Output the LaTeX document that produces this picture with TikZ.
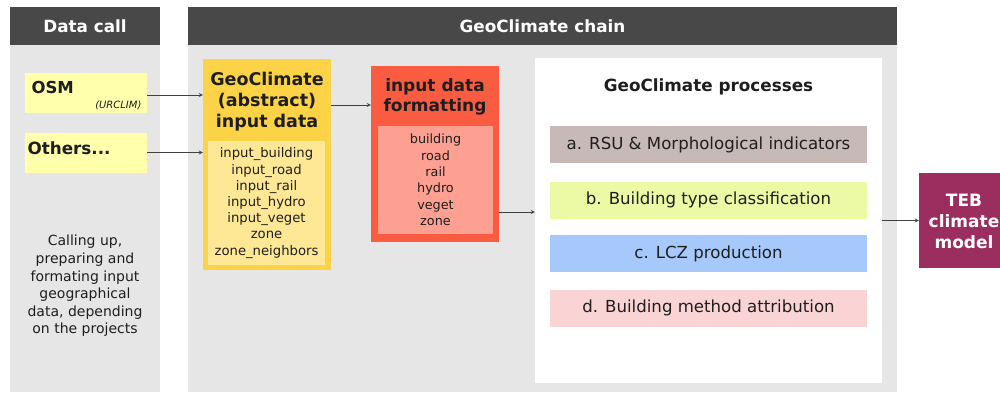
\documentclass[tikz,border=0pt]{standalone}
\usepackage{fontspec}
\setmainfont{DejaVu Sans}
\usetikzlibrary{positioning}

\definecolor{headgray}{RGB}{72,72,72}
\definecolor{bodygray}{RGB}{230,230,230}
\definecolor{paleyellow}{RGB}{255,255,172}
\definecolor{gold}{RGB}{252,210,70}
\definecolor{goldlight}{RGB}{254,232,150}
\definecolor{tomatored}{RGB}{250,92,66}
\definecolor{salmon}{RGB}{253,160,146}
\definecolor{procA}{RGB}{200,185,185}
\definecolor{procB}{RGB}{236,250,166}
\definecolor{procC}{RGB}{166,200,250}
\definecolor{procD}{RGB}{250,212,212}
\definecolor{tebred}{RGB}{155,45,95}
\definecolor{ink}{RGB}{30,30,30}

\newcommand{\sz}[2]{\fontsize{#1}{#2}\selectfont}

\begin{document}
\begin{tikzpicture}[x=1pt, y=-1pt, >=stealth,
  every node/.style={text=ink},
  box/.style={rectangle, inner sep=0pt},
  head/.style={box, fill=headgray, text=white, minimum height=38, font=\sz{16.8}{20}\bfseries},
  panel/.style={box, fill=bodygray, minimum height=347},
  source/.style={box, fill=paleyellow, minimum width=122, minimum height=40},
  proc/.style={box, minimum width=317, minimum height=37, font=\sz{16.6}{19}},
  link/.style={->, draw=black!75, line width=0.8pt}]

\clip (0,0) rectangle (1000,394);
\fill [white] (0,0) rectangle (1000,394);

% columns
\node [head, minimum width=150] (callhead) at (85,26) {Data call};
\node [panel, minimum width=150] (callbody) at (85,218.5) {};
\node [head, minimum width=709] (chainhead) at (542.5,26) {GeoClimate chain};
\node [panel, minimum width=709] (chainbody) at (542.5,218.5) {};

% data sources
\node [source] (osm) at (86,93) {};
\node [anchor=west, font=\sz{16.5}{19}\bfseries] (osmtxt) at (28,87) {OSM};
\node [anchor=east, font=\sz{10}{11}\itshape] (urclim) at (145,105) {(URCLIM)};
\node [source] (others) at (86,152.5) {};
\node [anchor=west, font=\sz{16.8}{19}\bfseries] (otherstxt) at (24,148) {Others...};
\node [align=center, font=\sz{14}{17.6}] (calling) at (85,286)
  {Calling up,\\preparing and\\formating input\\geographical\\data, depending\\on the projects};

% abstract input data
\node [box, fill=gold, minimum width=128, minimum height=211] (abstract) at (267,164.5) {};
\node [align=center, font=\sz{17.5}{21}\bfseries] (absttl) at (267,102) {GeoClimate\\(abstract)\\input data};
\node [box, fill=goldlight, minimum width=117, minimum height=124, align=center,
  font=\sz{13.2}{16.2}] (abslist) at (266.5,203)
  {input\_building\\input\_road\\input\_rail\\input\_hydro\\input\_veget\\zone\\zone\_neighbors};

% formatting
\node [box, fill=tomatored, minimum width=128, minimum height=176] (formatting) at (435,154) {};
\node [align=center, font=\sz{17}{20}\bfseries] (fmtttl) at (435,97) {input data\\formatting};
\node [box, fill=salmon, minimum width=115, minimum height=108, align=center,
  font=\sz{12.8}{16.4}] (fmtlist) at (435.5,180)
  {building\\road\\rail\\hydro\\veget\\zone};

% processes
\node [box, fill=white, minimum width=347, minimum height=325] (processes) at (708.5,220.5) {};
\node [font=\sz{16.8}{19}\bfseries] (proctitle) at (708.5,87) {GeoClimate processes};
\foreach \n/\y/\c/\t in {a/144.5/procA/a. RSU \& Morphological indicators,
                         b/200/procB/b. Building type classification,
                         c/253.5/procC/c. LCZ production,
                         d/308/procD/d. Building method attribution}
  \node [proc, fill=\c] (proc-\n) at (708.5,\y) {\t};

% climate model
\node [box, fill=tebred, minimum width=86, minimum height=95] (teb) at (962,220.5) {};
\node [align=center, text=white, font=\sz{17}{21}\bfseries] (tebtxt) at (964,221) {TEB\\climate\\model};

% connectors
\draw [link] (osm.east |- 0,95) -- (abstract.west |- 0,95);
\draw [link] (others.east) -- (abstract.west |- others.east);
\draw [link] (abstract.east |- 0,105) -- (formatting.west |- 0,105);
\draw [link] (formatting.east |- 0,212) -- (processes.west |- 0,212);
\draw [link] (processes.east) -- (teb.west);

\end{tikzpicture}
\end{document}
